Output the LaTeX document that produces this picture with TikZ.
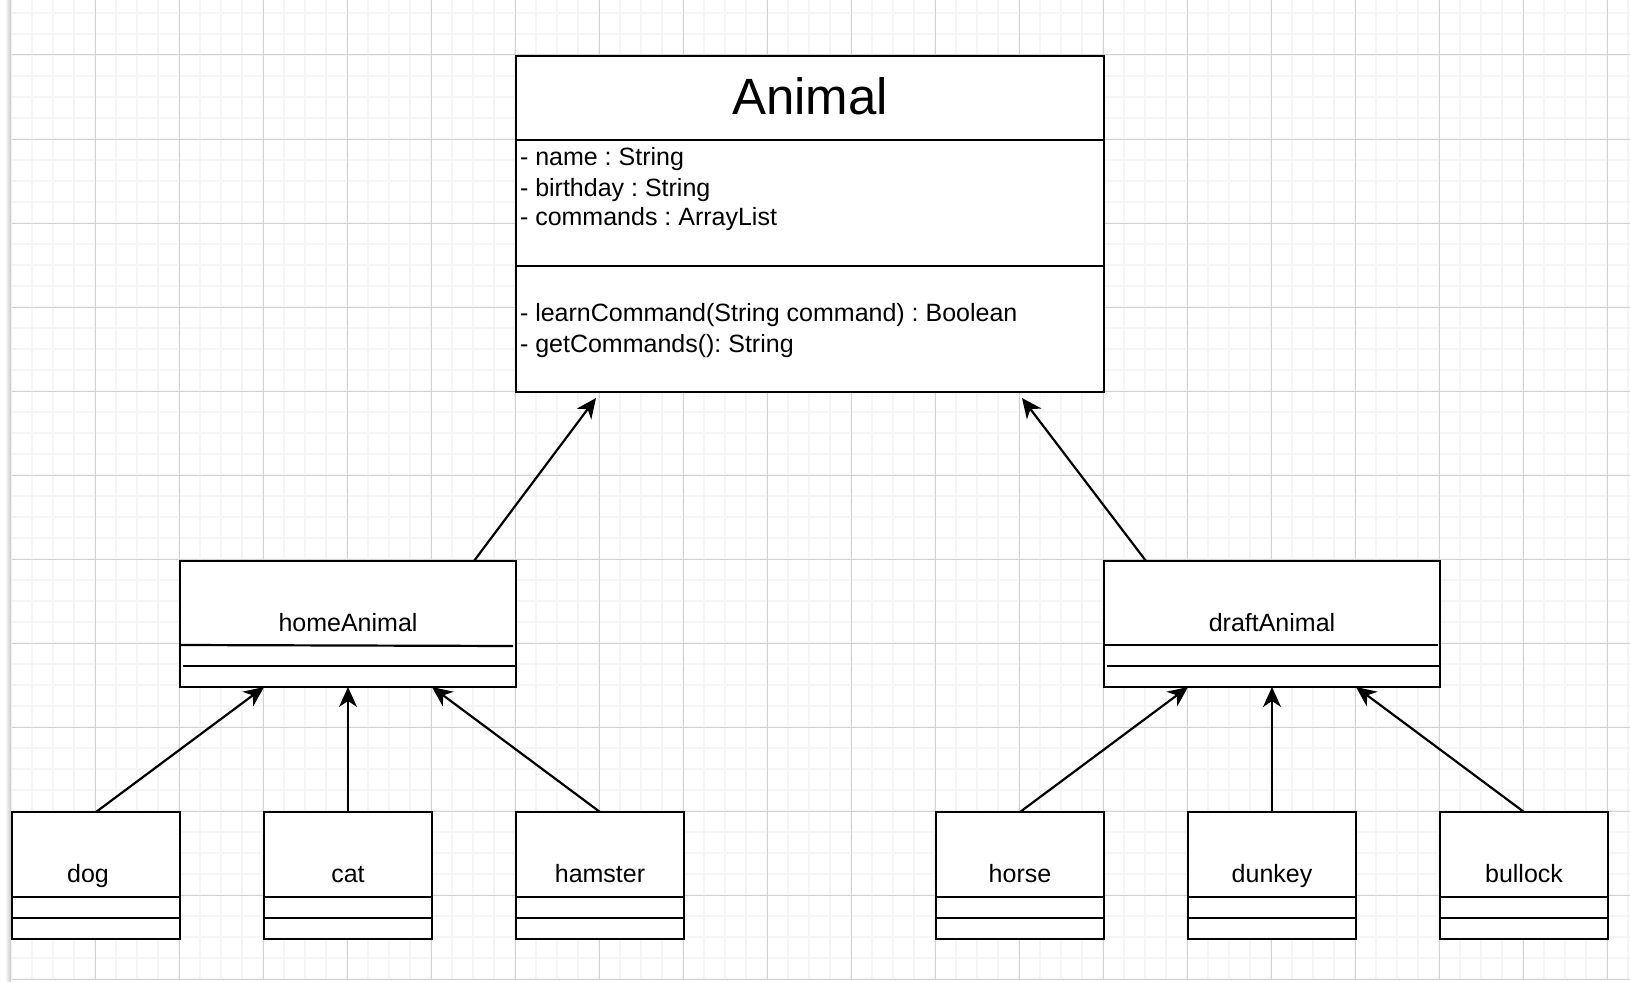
\documentclass[tikz,border=0pt]{standalone}
\usepackage{fontspec}
\setmainfont{Liberation Sans}
\frenchspacing
\usetikzlibrary{arrows.meta,calc}
\definecolor{gridminor}{RGB}{245,245,245}
\definecolor{gridmajor}{RGB}{210,210,210}
\begin{document}
\begin{tikzpicture}[x=1pt,y=-1pt,
  cls/.style={draw=black, line width=2.2pt, fill=white, inner sep=0pt, outer sep=0pt},
  lbl/.style={font=\fontsize{25}{30}\selectfont, inner sep=0pt, outer sep=0pt, text=black},
  ttl/.style={font=\fontsize{51}{60}\selectfont, inner sep=0pt, outer sep=0pt, text=black},
  inh/.style={line width=2.2pt, -{Stealth[length=20pt,width=18pt,inset=6pt]}},
  divl/.style={line width=2.2pt}]
\useasboundingbox (0,0) rectangle (1630,982);
\fill[white] (0,0) rectangle (1630,982);
% grid
\foreach \k in {0,...,77} \draw[gridminor, line width=1.6pt] ({11+21*\k},0) -- ({11+21*\k},980);
\foreach \k in {0,...,46} \draw[gridminor, line width=1.6pt] (12,{13+21*\k}) -- (1630,{13+21*\k});
\foreach \k in {1,...,19} \draw[gridmajor, line width=1pt] ({11+84*\k},0) -- ({11+84*\k},980);
\foreach \k in {0,...,11} \draw[gridmajor, line width=1pt] (12,{55+84*\k}) -- (1630,{55+84*\k});
\shade[left color=white, right color=black!22] (5,0) rectangle (11,982);

% Animal
\node[cls, minimum width=588, minimum height=336] (Animal) at (810,224) {};
\draw[divl] ($(Animal.north west)+(0,84)$) -- ($(Animal.north east)+(0,84)$);
\draw[divl] ($(Animal.north west)+(0,210)$) -- ($(Animal.north east)+(0,210)$);
\node[ttl, anchor=base] (AnimalT) at ($(Animal.north)+(0,58)$) {Animal};
\node[lbl, anchor=base west] (aName) at ($(Animal.north west)+(4,109)$) {- name : String};
\node[lbl, anchor=base west] (aBirth) at ($(Animal.north west)+(4,140)$) {- birthday : String};
\node[lbl, anchor=base west] (aCmds) at ($(Animal.north west)+(4,169)$) {- commands : ArrayList};
\node[lbl, anchor=base west] (mLearn) at ($(Animal.north west)+(4,265)$) {- learnCommand(String command) : Boolean};
\node[lbl, anchor=base west] (mGet) at ($(Animal.north west)+(4,296)$) {- getCommands(): String};

% homeAnimal / draftAnimal
\node[cls, minimum width=336, minimum height=126] (homeAnimal) at (348,624) {};
\draw[divl] ($(homeAnimal.south west)+(0,-42)$) -- ($(homeAnimal.south east)+(-3,-41)$);
\draw[divl] ($(homeAnimal.south west)+(3,-21)$) -- ($(homeAnimal.south east)+(0,-21)$);
\node[lbl, anchor=base] (homeT) at ($(homeAnimal.south)+(0,-56)$) {homeAnimal};

\node[cls, minimum width=336, minimum height=126] (draftAnimal) at (1272,624) {};
\draw[divl] ($(draftAnimal.south west)+(0,-42)$) -- ($(draftAnimal.south east)+(-2,-42)$);
\draw[divl] ($(draftAnimal.south west)+(3,-21)$) -- ($(draftAnimal.south east)+(0,-21)$);
\node[lbl, anchor=base] (draftT) at ($(draftAnimal.south)+(0,-56)$) {draftAnimal};

% leaf classes
\foreach \n/\cx/\dx in {dog/96/-8, cat/348/0, hamster/600/0, horse/1020/0, dunkey/1272/0, bullock/1524/0}{
  \node[cls, minimum width=168, minimum height=127] (\n) at (\cx,875.5) {};
  \draw[divl] ($(\n.south west)+(0,-42)$) -- ($(\n.south east)+(0,-42)$);
  \draw[divl] ($(\n.south west)+(0,-21)$) -- ($(\n.south east)+(0,-21)$);
  \node[lbl, anchor=base] (\n T) at ($(\n.south)+(\dx,-57)$) {\n};
}

% inheritance arrows
\draw[inh] ($(homeAnimal.north west)!0.875!(homeAnimal.north east)$) -- ($(Animal.south west)!0.1361!(Animal.south east)+(0,6)$);
\draw[inh] ($(draftAnimal.north west)!0.125!(draftAnimal.north east)$) -- ($(Animal.south west)!0.8605!(Animal.south east)+(0,6)$);

\draw[inh] (dog.north) -- ($(homeAnimal.south west)!0.25!(homeAnimal.south east)$);
\draw[inh] (cat.north) -- (homeAnimal.south);
\draw[inh] (hamster.north) -- ($(homeAnimal.south west)!0.75!(homeAnimal.south east)$);

\draw[inh] (horse.north) -- ($(draftAnimal.south west)!0.25!(draftAnimal.south east)$);
\draw[inh] (dunkey.north) -- (draftAnimal.south);
\draw[inh] (bullock.north) -- ($(draftAnimal.south west)!0.75!(draftAnimal.south east)$);
\end{tikzpicture}
\end{document}
